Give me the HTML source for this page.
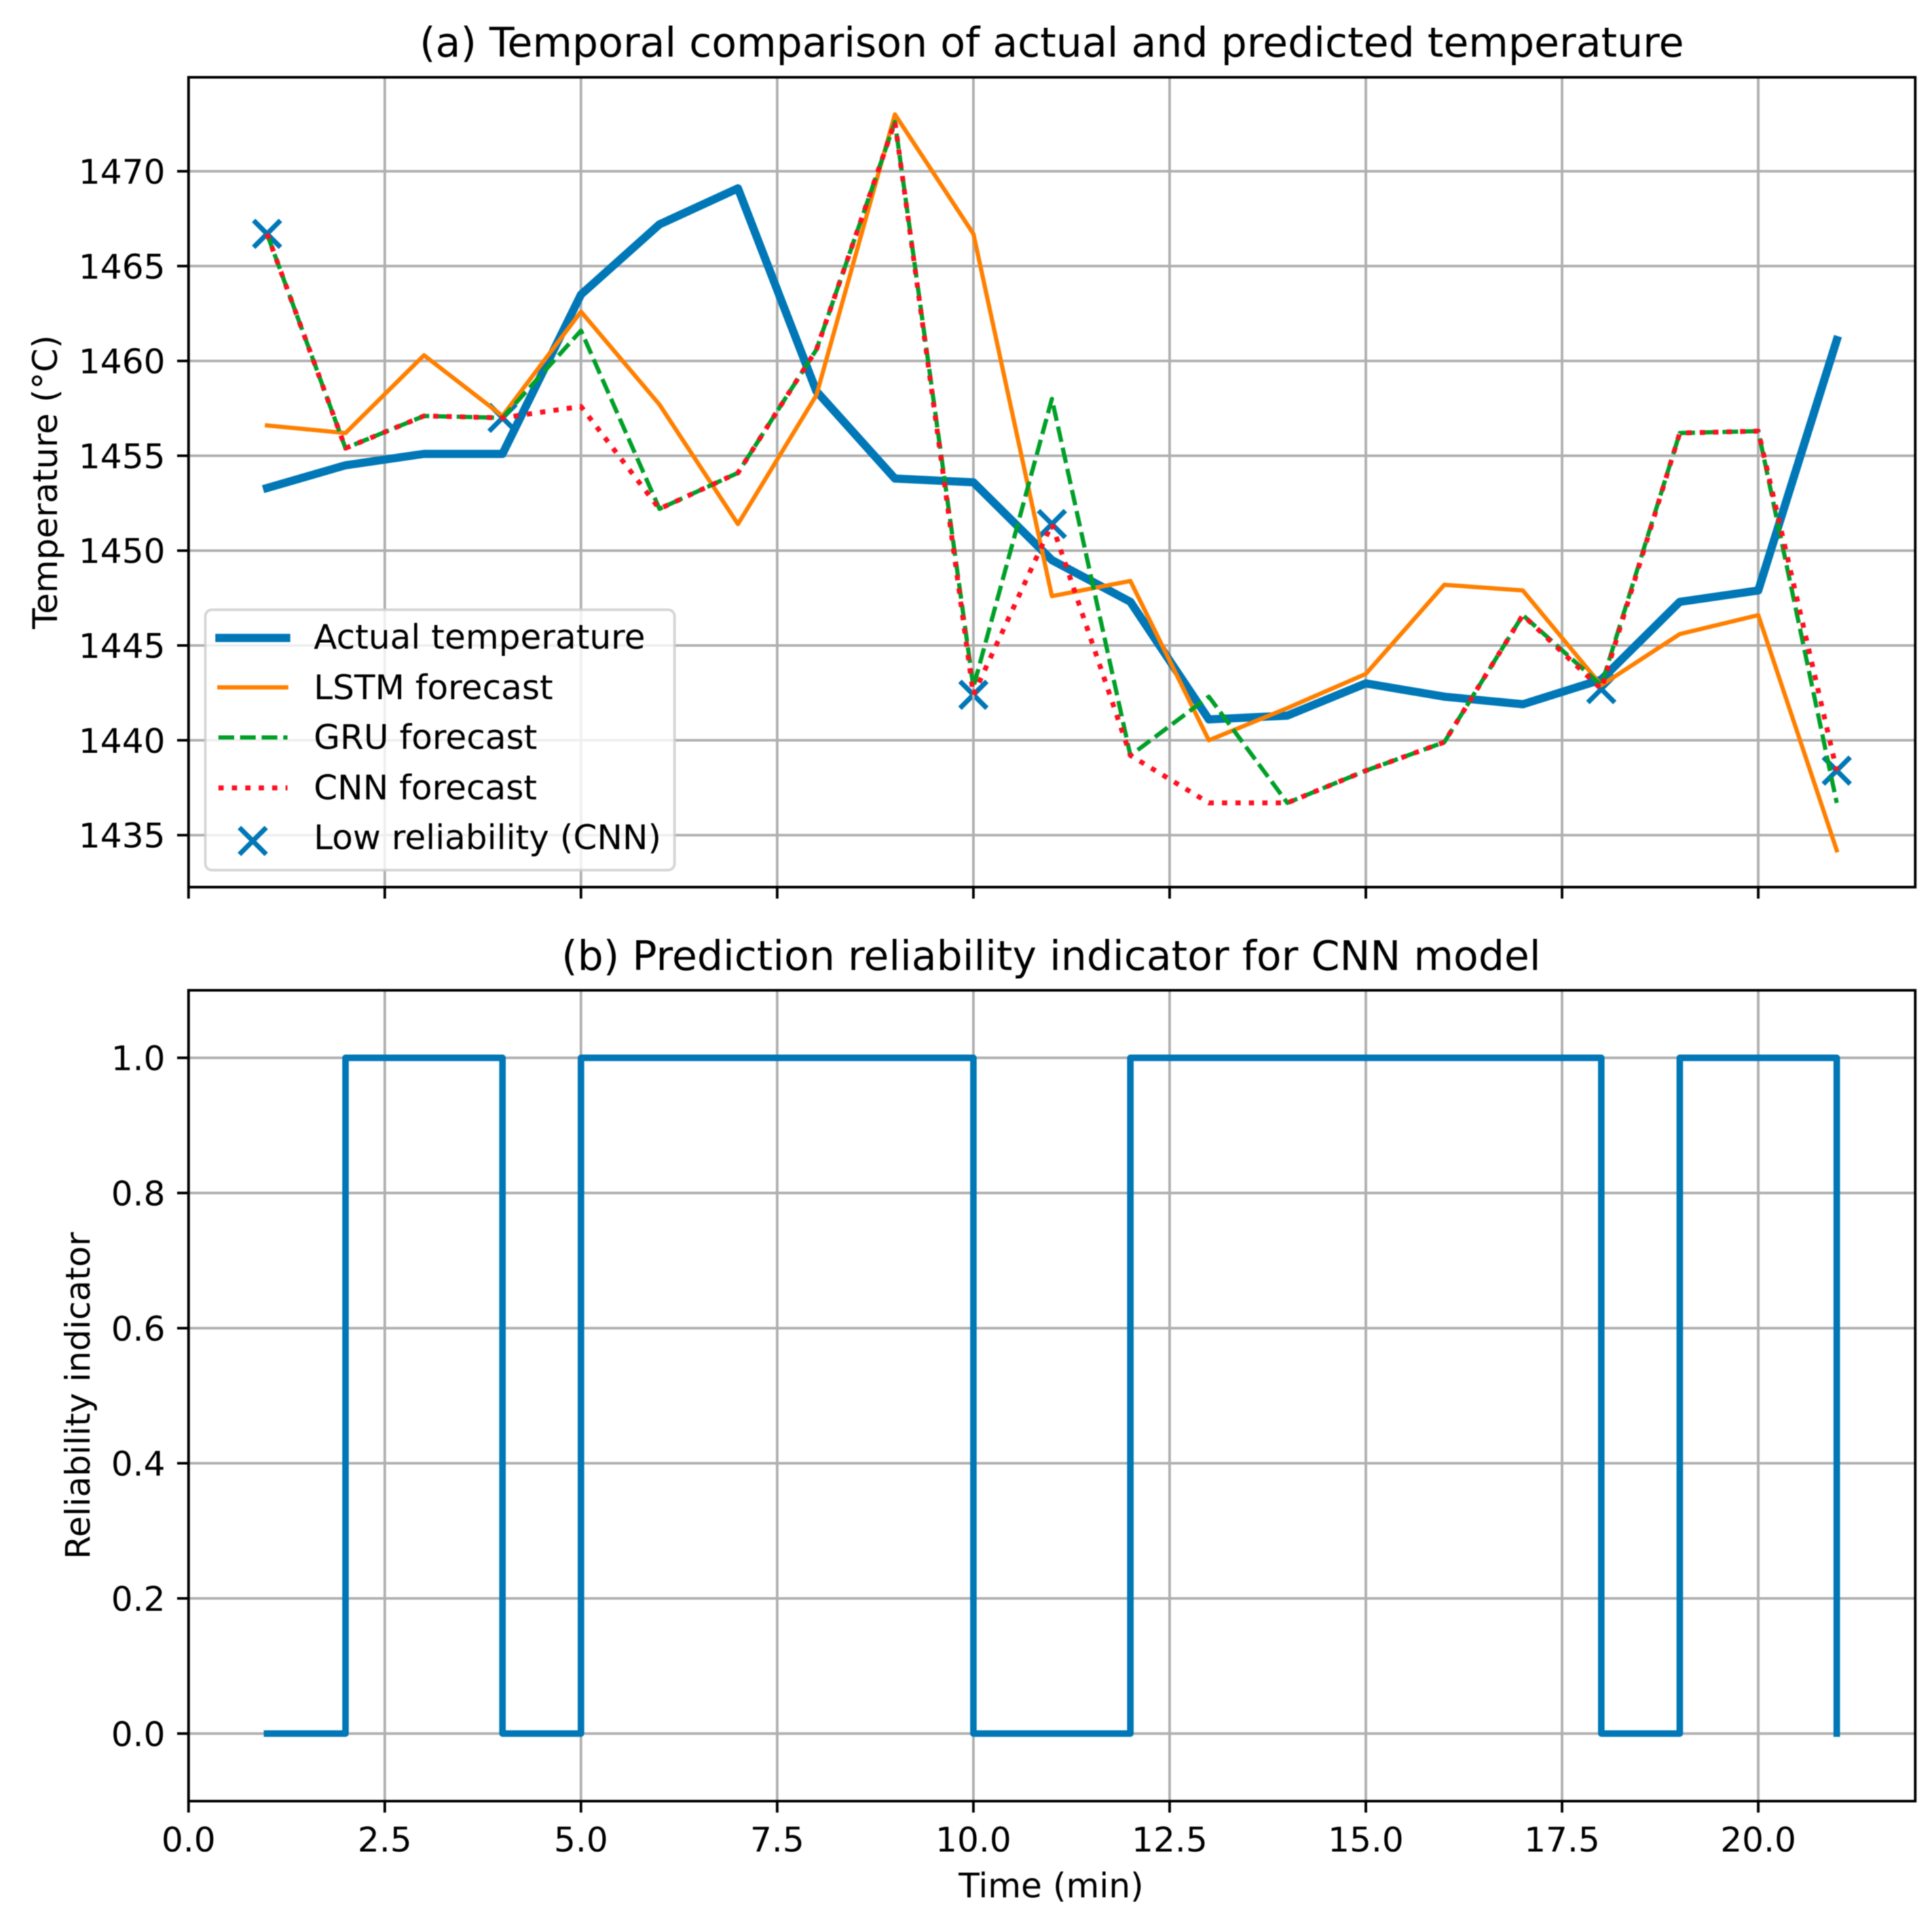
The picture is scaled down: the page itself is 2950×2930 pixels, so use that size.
<!DOCTYPE html>
<html lang="en">
<head>
<meta charset="utf-8">
<title>Temperature forecast comparison and CNN reliability</title>
<style>
html,body{margin:0;padding:0;background:#fff;width:2950px;height:2930px;overflow:hidden}
svg{display:block;filter:blur(0.9px)}
text{font-family:"DejaVu Sans",sans-serif;fill:#000}
</style>
</head>
<body>
<svg id="figure" xmlns="http://www.w3.org/2000/svg" width="2950" height="2930" viewBox="0 0 2950 2930">
  <rect x="0" y="0" width="2950" height="2930" fill="#ffffff"/>
  <text x="1606" y="86.5" font-size="62.3" text-anchor="middle">(a) Temporal comparison of actual and predicted temperature</text>
  <text x="1605" y="1481" font-size="62.3" text-anchor="middle">(b) Prediction reliability indicator for CNN model</text>
  <text transform="translate(87,736) rotate(-90)" font-size="52" text-anchor="middle">Temperature (°C)</text>
  <text transform="translate(137,2131) rotate(-90)" font-size="52" text-anchor="middle">Reliability indicator</text>
  <text x="1605" y="2897" font-size="52" text-anchor="middle">Time (min)</text>
  <g id="panel-a"></g>
  <g id="panel-b"></g>
  <g id="legend">
    <rect x="313.5" y="931" width="716.5" height="397.5" rx="10" ry="10" fill="#ffffff" fill-opacity="0.8" stroke="#cccccc" stroke-opacity="0.8" stroke-width="4"/>
    <line x1="335" y1="974" x2="437" y2="974" stroke="#0077b6" stroke-width="12.5" stroke-linecap="square"/>
    <text x="479" y="990.5" font-size="52">Actual temperature</text>
    <line x1="335" y1="1049.5" x2="437" y2="1049.5" stroke="#ff8000" stroke-width="6.5" stroke-linecap="square"/>
    <text x="479" y="1067.5" font-size="52">LSTM forecast</text>
    <line x1="333.5" y1="1126" x2="439" y2="1126" stroke="#00a028" stroke-width="6.5" stroke-dasharray="24 9"/>
    <text x="479" y="1143.5" font-size="52">GRU forecast</text>
    <line x1="333.5" y1="1203" x2="439" y2="1203" stroke="#ff1020" stroke-width="7.5" stroke-dasharray="8 12.5"/>
    <text x="479" y="1220.5" font-size="52">CNN forecast</text>
    <path d="M365.5 1263.5L406.5 1304.5M365.5 1304.5L406.5 1263.5" fill="none" stroke="#0077b6" stroke-width="7.5"/>
    <text x="479" y="1296.5" font-size="52">Low reliability (CNN)</text>
  </g>
</svg>
<script>
// ---- Data ----
var timeMinutes = [1,2,3,4,5,6,7,8,9,10,11,12,13,14,15,16,17,18,19,20,21];
var actualTemp = [1453.3,1454.5,1455.1,1455.1,1463.5,1467.2,1469.1,1458.4,1453.8,1453.6,1449.5,1447.3,1441.1,1441.3,1443.0,1442.3,1441.9,1443.2,1447.3,1447.9,1461.1];
var lstmTemp = [1456.6,1456.2,1460.3,1457.1,1462.6,1457.7,1451.4,1458.2,1473.0,1466.7,1447.6,1448.4,1440.0,1441.7,1443.5,1448.2,1447.9,1442.9,1445.6,1446.6,1434.2];
var gruTemp = [1466.7,1455.4,1457.1,1457.0,1461.6,1452.2,1454.1,1460.6,1472.6,1442.8,1458.0,1439.2,1442.3,1436.7,1438.4,1439.9,1446.6,1442.9,1456.2,1456.3,1436.7];
var cnnTemp = [1466.7,1455.4,1457.1,1457.0,1457.6,1452.2,1454.1,1460.6,1472.6,1442.4,1451.4,1439.2,1436.7,1436.7,1438.4,1439.9,1446.6,1442.7,1456.2,1456.3,1438.4];
var reliability = [0,1,1,0,1,1,1,1,1,0,0,1,1,1,1,1,1,0,1,1,0];
var xTickValues = [0,2.5,5,7.5,10,12.5,15,17.5,20];
var xTickLabels = ["0.0","2.5","5.0","7.5","10.0","12.5","15.0","17.5","20.0"];
var tempTickValues = [1435,1440,1445,1450,1455,1460,1465,1470];
var tempTickLabels = ["1435","1440","1445","1450","1455","1460","1465","1470"];
var relTickValues = [0,0.2,0.4,0.6,0.8,1];
var relTickLabels = ["0.0","0.2","0.4","0.6","0.8","1.0"];

// ---- Axis functions ----
var SVGNS = 'http://www.w3.org/2000/svg';
var AX_LEFT = 287.9, AX_RIGHT = 2924.4;
var A_TOP = 118, A_BOTTOM = 1354.5;
var B_TOP = 1512, B_BOTTOM = 2750;
function xScale(v){ return AX_LEFT + v / 22 * (AX_RIGHT - AX_LEFT); }
function yTemp(v){ return 261.5 + (1470 - v) * 28.96; }
function yRel(v){ return B_BOTTOM - (v + 0.1) / 1.2 * (B_BOTTOM - B_TOP); }

function make(tag, attrs, parent){
  var el = document.createElementNS(SVGNS, tag);
  for (var k in attrs) el.setAttribute(k, attrs[k]);
  parent.appendChild(el);
  return el;
}
function linePath(xs, ys, yFn){
  var d = '';
  for (var i = 0; i < xs.length; i++) d += (i ? 'L' : 'M') + xScale(xs[i]).toFixed(2) + ' ' + yFn(ys[i]).toFixed(2);
  return d;
}
function stepPostPath(xs, ys, yFn){
  var d = 'M' + xScale(xs[0]).toFixed(2) + ' ' + yFn(ys[0]).toFixed(2);
  for (var i = 1; i < xs.length; i++){
    d += 'L' + xScale(xs[i]).toFixed(2) + ' ' + yFn(ys[i-1]).toFixed(2);
    d += 'L' + xScale(xs[i]).toFixed(2) + ' ' + yFn(ys[i]).toFixed(2);
  }
  return d;
}
function drawFrame(parent, top, bottom){
  var f = make('rect', {x:AX_LEFT, y:top, width:AX_RIGHT-AX_LEFT, height:bottom-top, fill:'none', stroke:'#000', 'stroke-width':4}, parent);
  
  
}
function drawXGrid(parent, top, bottom){
  xTickValues.forEach(function(v){
    var g = make('line', {x1:xScale(v), x2:xScale(v), y1:top, y2:bottom, stroke:'#b0b0b0', 'stroke-width':4}, parent);
    
    
  });
}
function drawXTicks(parent, bottom, withLabels){
  xTickValues.forEach(function(v, i){
    var t = make('line', {x1:xScale(v), x2:xScale(v), y1:bottom, y2:bottom+17.5, stroke:'#000', 'stroke-width':4}, parent);
    
    
    if (withLabels){
      var l = make('text', {x:xScale(v), y:2827, 'font-size':52, 'text-anchor':'middle'}, parent);
      l.textContent = xTickLabels[i];
      
      
    }
  });
}
function drawYAxisGrid(parent, values, labels, yFn){
  values.forEach(function(v){
    var g = make('line', {x1:AX_LEFT, x2:AX_RIGHT, y1:yFn(v), y2:yFn(v), stroke:'#b0b0b0', 'stroke-width':4}, parent);
    
    
  });
}
function drawYTicks(parent, values, labels, yFn){
  values.forEach(function(v, i){
    var t = make('line', {x1:AX_LEFT-17.5, x2:AX_LEFT, y1:yFn(v), y2:yFn(v), stroke:'#000', 'stroke-width':4}, parent);
    
    
    var l = make('text', {x:AX_LEFT-35.5, y:yFn(v)+19, 'font-size':52, 'text-anchor':'end'}, parent);
    l.textContent = labels[i];
    
    
  });
}

// ---- Panel (a) ----
var panelA = document.getElementById('panel-a');
// markers sit under grid and lines
timeMinutes.forEach(function(t, i){
  if (reliability[i] !== 0) return;
  var cx = xScale(t), cy = yTemp(cnnTemp[i]), r = 20.5;
  var m = make('path', {d:'M'+(cx-r)+' '+(cy-r)+'L'+(cx+r)+' '+(cy+r)+'M'+(cx-r)+' '+(cy+r)+'L'+(cx+r)+' '+(cy-r), fill:'none', stroke:'#0077b6', 'stroke-width':7.5}, panelA);
  
  
});
drawXGrid(panelA, A_TOP, A_BOTTOM);
drawYAxisGrid(panelA, tempTickValues, tempTickLabels, yTemp);

var actualLine = make('path', {d:linePath(timeMinutes, actualTemp, yTemp), fill:'none', stroke:'#0077b6', 'stroke-width':12.5, 'stroke-linejoin':'round', 'stroke-linecap':'square'}, panelA);



var lstmLine = make('path', {d:linePath(timeMinutes, lstmTemp, yTemp), fill:'none', stroke:'#ff8000', 'stroke-width':6.5, 'stroke-linejoin':'round', 'stroke-linecap':'square'}, panelA);



var gruLine = make('path', {d:linePath(timeMinutes, gruTemp, yTemp), fill:'none', stroke:'#00a028', 'stroke-width':6.5, 'stroke-linejoin':'round', 'stroke-dasharray':'24 9'}, panelA);



var cnnLine = make('path', {d:linePath(timeMinutes, cnnTemp, yTemp), fill:'none', stroke:'#ff1020', 'stroke-width':7.5, 'stroke-linejoin':'round', 'stroke-dasharray':'8 12.5'}, panelA);



drawFrame(panelA, A_TOP, A_BOTTOM);
drawXTicks(panelA, A_BOTTOM, false);
drawYTicks(panelA, tempTickValues, tempTickLabels, yTemp);

// ---- Panel (b) ----
var panelB = document.getElementById('panel-b');
drawXGrid(panelB, B_TOP, B_BOTTOM);
drawYAxisGrid(panelB, relTickValues, relTickLabels, yRel);

var relLine = make('path', {d:stepPostPath(timeMinutes, reliability, yRel), fill:'none', stroke:'#0077b6', 'stroke-width':10, 'stroke-linejoin':'round', 'stroke-linecap':'square'}, panelB);



drawFrame(panelB, B_TOP, B_BOTTOM);
drawXTicks(panelB, B_BOTTOM, true);
drawYTicks(panelB, relTickValues, relTickLabels, yRel);
</script>
</body>
</html>
